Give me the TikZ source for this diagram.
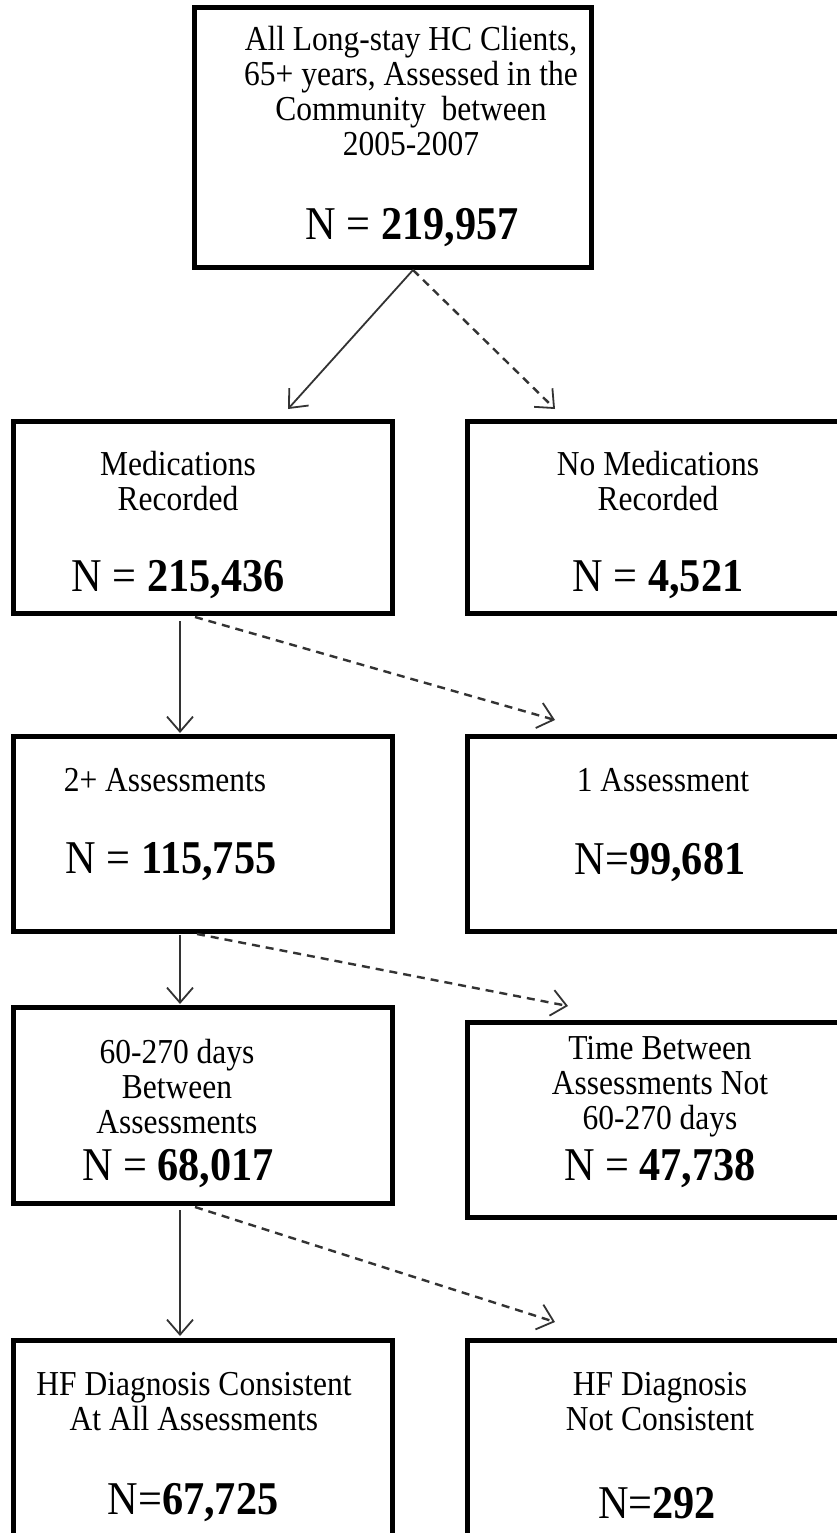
\documentclass[tikz,border=0pt]{standalone}
\usepackage{fontspec}
\setmainfont[FakeStretch=0.9]{Liberation Serif}
\usetikzlibrary{arrows.meta}
\tikzset{
  box/.style={draw=black, line width=5pt, inner sep=0pt},
  txt/.style={inner sep=0pt, align=center, font=\fontsize{35}{35}\selectfont},
  num/.style={inner sep=0pt, font=\fontsize{47}{47}\selectfont},
  conn/.style={draw=black!80, line width=1.8pt, -{Straight Barb[length=15pt,width=26pt,line width=1.8pt]}},
  dconn/.style={conn, line width=2.4pt, dash pattern=on 8pt off 6pt}
}
\begin{document}
\begin{tikzpicture}[x=1pt,y=-1pt]
\useasboundingbox[fill=white] (0,0) rectangle (836,1533);
% boxes
\draw[box] (194,8) rectangle (591,267);
\node (top) at (392,137) {};
\draw[box] (13,421) rectangle (392,613);
\node (meds) at (202,517) {};
\draw[box] (467,421) rectangle (845,613);
\node (nomeds) at (655,517) {};
\draw[box] (13,736) rectangle (392,931);
\node (two) at (202,832) {};
\draw[box] (467,736) rectangle (845,931);
\node (one) at (655,832) {};
\draw[box] (13,1007) rectangle (392,1203);
\node (days) at (202,1105) {};
\draw[box] (467,1022) rectangle (845,1217);
\node (notdays) at (655,1120) {};
\draw[box] (13,1340) rectangle (392,1545);
\node (hf) at (202,1440) {};
\draw[box] (467,1340) rectangle (845,1545);
\node (nohf) at (655,1440) {};
% texts
\node[txt] (t1) at (411,91) {All Long-stay HC Clients,\\65+ years, Assessed in the\\Community\ \ between\\2005-2007};
\node[num] (n1) at (412,228) {N = \textbf{219,957}};
\node[txt] (t2) at (178,481) {Medications\\Recorded};
\node[num] (n2) at (178,580) {N = \textbf{215,436}};
\node[txt] (t3) at (658,481) {No Medications\\Recorded};
\node[num] (n3) at (658,580) {N = \textbf{4,521}};
\node[txt] (t4) at (165,780) {2+ Assessments};
\node[num] (n4) at (171,862) {N = \textbf{115,755}};
\node[txt] (t5) at (663,780) {1 Assessment};
\node[num] (n5) at (660,862) {N=\textbf{99,681}};
\node[txt] (t6) at (177,1087) {60-270 days\\Between\\Assessments};
\node[num] (n6) at (178,1168) {N = \textbf{68,017}};
\node[txt] (t7) at (660,1087) {Time Between\\Assessments Not\\60-270 days};
\node[num] (n7) at (660,1168) {N = \textbf{47,738}};
\node[txt] (t8) at (194,1402) {HF Diagnosis Consistent\\At All Assessments};
\node[num] (n8) at (193,1503) {N=\textbf{67,725}};
\node[txt] (t9) at (660,1402) {HF Diagnosis\\Not Consistent};
\node[num] (n9) at (657,1503) {N=\textbf{292}};
% connector end points
\coordinate (s1) at (413,270);
\coordinate (e1a) at (288,409);
\coordinate (e1b) at (555,409);
\coordinate (s2a) at (180,621);
\coordinate (s2b) at (195,617);
\coordinate (e2a) at (180,733);
\coordinate (e2b) at (555,720);
\coordinate (s3a) at (180,935);
\coordinate (s3b) at (197,934);
\coordinate (e3a) at (180,1004);
\coordinate (e3b) at (568,1006);
\coordinate (s4a) at (180,1210);
\coordinate (s4b) at (195,1207);
\coordinate (e4a) at (180,1336);
\coordinate (e4b) at (555,1322);
% connectors
\draw[conn] (s1) -- (e1a);
\draw[dconn] (s1) -- (e1b);
\draw[conn] (s2a) -- (e2a);
\draw[dconn] (s2b) -- (e2b);
\draw[conn] (s3a) -- (e3a);
\draw[dconn] (s3b) -- (e3b);
\draw[conn] (s4a) -- (e4a);
\draw[dconn] (s4b) -- (e4b);
\end{tikzpicture}
\end{document}
